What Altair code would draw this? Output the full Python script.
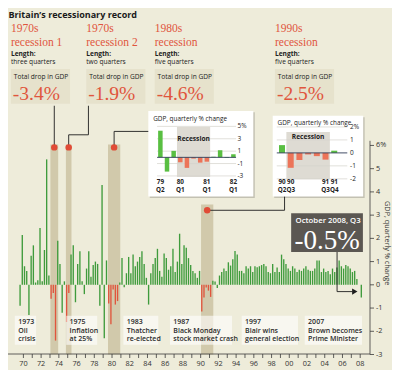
import altair as alt
import pandas as pd

# ---------------- chart values ----------------
START_YEAR = 1970
gdp_growth = [
    -0.9, 2.15, 0.8, 0.6,      # 1970
    -1.3, 1.25, 1.7, 0.1,      # 1971
    0.2, 2.45, 0.15, 1.5,      # 1972
    5.4, 0.4, -0.6, -0.35,     # 1973
    -2.4, 1.9, 0.9, -1.2,      # 1974
    0.15, -1.6, -0.35, 1.3,    # 1975
    1.7, -0.75, 0.9, 1.45,     # 1976
    0.15, -0.4, 0.7, 1.45,     # 1977
    0.35, 0.85, 1.0, 0.9,      # 1978
    -0.9, 4.3, -2.3, 1.05,     # 1979
    -0.8, -1.7, -0.2, -0.85,   # 1980
    -0.7, 0.1, 1.15, -0.1,     # 1981
    0.5, 1.2, 0.5, 1.3,        # 1982
    0.8, 1.0, 1.2, 1.45,       # 1983
    0.9, 0.3, -0.85, 0.5,      # 1984
    0.9, 1.15, 1.55, 0.6,      # 1985
    0.35, 1.35, 1.15, 0.65,    # 1986
    0.8, 1.55, 0.55, 1.0,      # 1987
    2.2, 0.9, 1.7, 1.6,        # 1988
    1.15, 0.85, 0.6, 0.5,      # 1989
    0.3, 0.6, -1.15, -0.55,    # 1990
    -0.12, -0.25, -0.52, 0.17, # 1991
    0.14, -0.14, 0.4, 0.55,    # 1992
    0.7, 0.6, 0.97, 0.83,      # 1993
    1.1, 1.46, 1.3, 0.6,       # 1994
    0.6, 0.5, 0.8, 0.7,        # 1995
    0.8, 0.55, 0.8, 0.76,      # 1996
    0.8, 0.85, 0.9, 0.8,       # 1997
    0.55, 0.5, 0.9, 0.55,      # 1998
    0.75, 0.55, 1.3, 1.1,      # 1999
    0.9, 0.7, 0.6, 0.8,        # 2000
    0.7, 0.55, 0.65, 0.6,      # 2001
    0.7, 0.8, 0.65, 0.6,       # 2002
    0.6, 0.7, 1.05, 1.05,      # 2003
    0.55, 0.7, 0.55, 0.6,      # 2004
    0.45, 0.7, 0.55, 0.75,     # 2005
    1.05, 0.8, 0.7, 0.85,      # 2006
    0.8, 0.7, 0.55, 0.6,       # 2007
    0.25, 0.0, -0.55,          # 2008
]
year_ticks = list(range(1970, 2009))
year_labels = [str(y)[2:] if y % 2 == 0 else "" for y in year_ticks]
pct_ticks = list(range(-3, 7))
pct_labels = [f"{v}%" if v == 6 else f"{v}" for v in pct_ticks]
y_title = "GDP, quarterly % change"

rec_year = ["1970s", "1970s", "1980s", "1990s"]
rec_name = ["recession 1", "recession 2", "recession", "recession"]
rec_length = ["three quarters", "two quarters", "five quarters", "five quarters"]
rec_drop = ["-3.4%", "-1.9%", "-4.6%", "-2.5%"]
rec_first = [1973.5, 1975.25, 1980.0, 1990.5]
rec_last = [1974.0, 1975.5, 1981.0, 1991.5]

event_year = ["1973", "1975", "1983", "1987", "1997", "2007"]
event_text = ["Oil\ncrisis", "Inflation\nat 25%", "Thatcher\nre-elected",
              "Black Monday\nstock market crash", "Blair wins\ngeneral election",
              "Brown becomes\nPrime Minister"]

inset1_start = 1979.25
inset1_labels = ["79\nQ2", "", "", "80\nQ1", "", "", "", "81\nQ1", "", "", "", "82\nQ1"]
inset1_ticks = [5, 3, 1, -1, -3]
inset2_start = 1990.25
inset2_labels = ["90\nQ2", "90\nQ3", "", "", "", "91\nQ3", "91\nQ4"]
inset2_ticks = [2, 1, 0, -1, -2]

callout_title = "October 2008, Q3"
callout_value = "-0.5%"

# ---------------- styles / layout ----------------
RED = "#e0553d"
GREEN = "#3f9b3c"
IRED = "#ec7459"
IGREEN = "#59bf42"
BG = "#eeecda"
BAND = "#cbc3a2"
PANEL = "#e6e2cc"
INK = "#1e1e1e"
AXC = "#3a3a3a"
SANS = "Open Sans"
SERIF = "Liberation Serif"

SX = 384 / 396
SY = 362 / 374
W, H = 362, 346


def px(x):
    return (x - 2) * SX


def py(y):
    return (y - 2) * SY


def main_t(ref_x):
    return START_YEAR + (ref_x - 9.5) / 9.4


def main_v(ref_y):
    return (288 - ref_y) / 24


XS = alt.Scale(domain=[main_t(0 / SX + 2), main_t(W / SX + 2)], nice=False, zero=False)
YS = alt.Scale(domain=[main_v(H / SY + 2), main_v(0 / SY + 2)], nice=False, zero=False)


def ptext(rows, **kw):
    d = pd.DataFrame({"px": [px(r[0]) for r in rows], "py": [py(r[1]) for r in rows],
                      "txt": [r[2] for r in rows]})
    props = dict(align="left", baseline="alphabetic", lineBreak="\n")
    props.update(kw)
    return alt.Chart(d).mark_text(**props).encode(
        x=alt.X("px:Q", scale=None, axis=None), y=alt.Y("py:Q", scale=None, axis=None),
        text="txt:N")


def prect(boxes, **kw):
    d = pd.DataFrame({"x0": [px(b[0]) for b in boxes], "y0": [py(b[1]) for b in boxes],
                      "x1": [px(b[2]) for b in boxes], "y1": [py(b[3]) for b in boxes]})
    return alt.Chart(d).mark_rect(**kw).encode(
        x=alt.X("x0:Q", scale=None, axis=None), x2="x1",
        y=alt.Y("y0:Q", scale=None, axis=None), y2="y1")


# ---------------- main data ----------------
def in_rec(tt):
    return any(f - 1e-6 <= tt <= l + 1e-6 for f, l in zip(rec_first, rec_last))


times = [START_YEAR + i / 4 for i in range(len(gdp_growth))]
main_df = pd.DataFrame({"t": times, "g": gdp_growth, "rec": [in_rec(x) for x in times]})

band_top = [main_v(143), main_v(143), main_v(143), main_v(205)]
dot_v = [main_v(146), main_v(146), main_v(146), main_v(211)]
band_df = pd.DataFrame({"t0": [f - 0.08 for f in rec_first], "t1": [l + 0.3 for l in rec_last],
                        "top": band_top, "bot": [-3.0] * 4})
centers = [(f - 0.08 + l + 0.3) / 2 for f, l in zip(rec_first, rec_last)]
dot_df = pd.DataFrame({"t": centers, "v": dot_v})

conn_rows = []


def add_conn(cid, pts):
    for k, (tt, vv) in enumerate(pts):
        conn_rows.append({"id": cid, "o": k, "t": tt, "v": vv})


add_conn(1, [(centers[0], dot_v[0]), (centers[0], main_v(103))])
add_conn(2, [(centers[1], dot_v[1]), (centers[1], main_v(133)), (main_t(82), main_v(133)),
             (main_t(82), main_v(103))])
add_conn(3, [(centers[2], dot_v[2]), (centers[2], main_v(129.5)), (main_t(147), main_v(129.5))])
add_conn(4, [(centers[3], dot_v[3]), (main_t(290), dot_v[3]), (main_t(290), main_v(196.5))])
add_conn(5, [(main_t(345.7), main_v(254)), (main_t(345.7), main_v(295)),
             (main_t(362), main_v(295))])
conn_df = pd.DataFrame(conn_rows)
arrow_df = pd.DataFrame({"t": [main_t(364.5)], "v": [main_v(295)]})

# ---------------- axes (drawn with the main scales) ----------------
xt_df = pd.DataFrame({"yr": [y + 0.375 for y in year_ticks], "lab": year_labels})
x_line = alt.Chart(pd.DataFrame({"a": [0]})).mark_rule(color=AXC, strokeWidth=0.8).encode(
    x=alt.value(0), x2=alt.value(W), y=alt.value(H))
x_ticks = alt.Chart(xt_df).mark_rule(color=AXC, strokeWidth=0.8).encode(
    x=alt.X("yr:Q", scale=XS, axis=None), y=alt.value(H), y2=alt.value(H + 4))
x_labels = alt.Chart(xt_df).mark_text(font=SANS, fontSize=7.3, color="#333",
                                      baseline="middle").encode(
    x=alt.X("yr:Q", scale=XS, axis=None), y=alt.value(H + 10), text="lab:N")

yt_df = pd.DataFrame({"v": pct_ticks, "lab": pct_labels})
y_line = alt.Chart(pd.DataFrame({"a": [6.2], "b": [-3.0]})).mark_rule(
    color=AXC, strokeWidth=0.8).encode(
    x=alt.value(W), y=alt.Y("a:Q", scale=YS, axis=None), y2="b")
y_ticks = alt.Chart(yt_df).mark_rule(color=AXC, strokeWidth=0.8).encode(
    x=alt.value(W), x2=alt.value(W + 4), y=alt.Y("v:Q", scale=YS, axis=None))
y_labels = alt.Chart(yt_df).mark_text(font=SANS, fontSize=7.3, color="#333", align="left",
                                      baseline="middle").encode(
    x=alt.value(W + 6), y=alt.Y("v:Q", scale=YS, axis=None), text="lab:N")
y_title_layer = ptext([(393, 245, y_title)], font=SANS, fontSize=7.3, color="#333",
                      angle=90, align="center", baseline="middle")

panels = prect([(cx, 65, cx + 61, 101) for cx in [5, 82.7, 153.3, 277.3]], color=PANEL)

bands = alt.Chart(band_df).mark_rect(color=BAND, opacity=0.85).encode(
    x=alt.X("t0:Q", scale=XS, axis=None), x2="t1",
    y=alt.Y("top:Q", scale=YS, axis=None), y2="bot")

bars = alt.Chart(main_df).mark_bar(size=1.35).encode(
    x=alt.X("t:Q", scale=XS, axis=None),
    y=alt.Y("g:Q", scale=YS, axis=None),
    y2=alt.datum(0),
    color=alt.condition("datum.rec", alt.value(RED), alt.value(GREEN)))

ev_boxes = [(9, 320, 31, 350), (62, 320, 94, 350), (121, 320, 157, 350),
            (169, 320, 233, 350), (243, 320, 301, 350), (308, 320, 367, 350)]
ev_box_layer = prect(ev_boxes, color="#ffffff", opacity=0.6)
ev_text_layer = ptext([(b[0] + 3.5, 328.3, y + "\n" + s)
                       for b, y, s in zip(ev_boxes, event_year, event_text)],
                      font=SANS, fontSize=7, fontWeight=600, color="#2a2a2a", lineHeight=8.7)

connectors = alt.Chart(conn_df).mark_line(color=INK, strokeWidth=0.9).encode(
    x=alt.X("t:Q", scale=XS, axis=None), y=alt.Y("v:Q", scale=YS, axis=None),
    detail="id:N", order="o:Q")
dots = alt.Chart(dot_df).mark_circle(size=42, color="#e04b36", opacity=1).encode(
    x=alt.X("t:Q", scale=XS, axis=None), y=alt.Y("v:Q", scale=YS, axis=None))
arrow = alt.Chart(arrow_df).mark_point(shape="triangle-right", size=38, filled=True,
                                       color=INK, opacity=1).encode(
    x=alt.X("t:Q", scale=XS, axis=None), y=alt.Y("v:Q", scale=YS, axis=None))

callout_box = prect([(294, 214, 368, 254)], color="#5b5752")
callout_t1 = ptext([(298.5, 224.3, callout_title)], font=SANS, fontSize=7.8, fontWeight=600,
                   color="#ffffff")
callout_t2 = ptext([(297.5, 251, callout_value)], font=SERIF, fontSize=27, color="#ffffff")

title = ptext([(2.5, 12.3, "Britain\u2019s recessionary record")], font=SANS, fontSize=9,
              fontWeight="bold", color="#1a1a1a")
col_x = [5, 82.7, 153.3, 277.3]
head_year = ptext([(cx, 27.3, s) for cx, s in zip(col_x, rec_year)], font=SERIF,
                  fontSize=11.5, color=RED)
head_name = ptext([(cx, 41.7, s) for cx, s in zip(col_x, rec_name)], font=SERIF,
                  fontSize=11.5, color=RED)
head_len = ptext([(cx, 51.5, "Length:") for cx in col_x], font=SANS, fontSize=6.6,
                 fontWeight="bold", color="#222")
head_q = ptext([(cx, 59.5, s) for cx, s in zip(col_x, rec_length)], font=SANS, fontSize=6.6,
               color="#222")
head_td = ptext([(cx + 3, 75.5, "Total drop in GDP") for cx in col_x], font=SANS,
                fontSize=6.6, color="#222")
head_drop = ptext([(cx + 2, 97, s) for cx, s in zip(col_x, rec_drop)], font=SERIF,
                  fontSize=19.5, color=RED)

main = alt.layer(panels, bands, bars, x_line, x_ticks, x_labels, y_line, y_ticks, y_labels,
                 y_title_layer, ev_box_layer, ev_text_layer,
                 connectors, dots, arrow, callout_box, callout_t1, callout_t2,
                 title, head_year, head_name, head_len, head_q, head_td, head_drop)


# ---------------- insets ----------------
def make_inset(start, labels, ticks, box, x0, step, zero, unit, bar_w, grid_span,
               band_ref, rec_ref_y, lab_x):
    i0 = int(round((start - START_YEAR) * 4))
    n = len(labels)
    vals = gdp_growth[i0:i0 + n]
    tt = [start + k / 4 for k in range(n)]
    df = pd.DataFrame({"i": list(range(n)), "g": vals, "rec": [in_rec(x) for x in tt],
                       "lab": labels})

    def iv(ref_x):
        return (ref_x - x0) / step

    def vv(ref_y):
        return (zero - ref_y) / unit

    xs = alt.Scale(domain=[iv(0 / SX + 2), iv(W / SX + 2)], nice=False, zero=False)
    ys = alt.Scale(domain=[vv(H / SY + 2), vv(0 / SY + 2)], nice=False, zero=False)

    recs = [k for k in range(n) if df["rec"][k]]
    shadow = prect([(box[0] + 1.5, box[1] + 1.5, box[2] + 1.5, box[3] + 1.5)],
                   color="#000000", opacity=0.18)
    card = prect([box], color="#ffffff")
    ttl = ptext([(box[0] + 5, box[1] + 10, "GDP, quarterly % change")], font=SANS,
                fontSize=6.4, color="#222")
    bd = pd.DataFrame({"a": [recs[0] - 0.5], "b": [recs[-1] + 0.5],
                       "c": [vv(band_ref[0])], "d": [vv(band_ref[1])]})
    band = alt.Chart(bd).mark_rect(color="#dedbd3").encode(
        x=alt.X("a:Q", scale=xs, axis=None), x2="b",
        y=alt.Y("c:Q", scale=ys, axis=None), y2="d")
    gd = pd.DataFrame({"v": [t for t in ticks if t != 0], "a": grid_span[0], "b": grid_span[1]})
    grid = alt.Chart(gd).mark_rule(color="#d4d2cc", strokeWidth=0.7).encode(
        x=alt.X("a:Q", scale=xs, axis=None), x2="b", y=alt.Y("v:Q", scale=ys, axis=None))
    ibars = alt.Chart(df).mark_bar(size=bar_w).encode(
        x=alt.X("i:Q", scale=xs, axis=None), y=alt.Y("g:Q", scale=ys, axis=None),
        y2=alt.datum(0),
        color=alt.condition("datum.rec", alt.value(IRED), alt.value(IGREEN)))
    zd = pd.DataFrame({"v": [0], "a": grid_span[0], "b": grid_span[1]})
    zline = alt.Chart(zd).mark_rule(color="#2f3b57", strokeWidth=0.9).encode(
        x=alt.X("a:Q", scale=xs, axis=None), x2="b", y=alt.Y("v:Q", scale=ys, axis=None))
    ld = pd.DataFrame({"v": ticks, "x": iv(lab_x),
                       "txt": [f"{t}%" if k == 0 else f"{t}" for k, t in enumerate(ticks)]})
    ylabs = alt.Chart(ld).mark_text(align="left", baseline="middle", font=SANS, fontSize=6.5,
                                    color="#222").encode(
        x=alt.X("x:Q", scale=xs, axis=None), y=alt.Y("v:Q", scale=ys, axis=None), text="txt:N")
    rd = pd.DataFrame({"x": [(recs[0] + recs[-1]) / 2], "v": [vv(rec_ref_y)], "txt": ["Recession"]})
    rtxt = alt.Chart(rd).mark_text(baseline="middle", font=SANS, fontSize=6.6,
                                   fontWeight="bold", color="#222").encode(
        x=alt.X("x:Q", scale=xs, axis=None), y=alt.Y("v:Q", scale=ys, axis=None), text="txt:N")
    xd = df[df["lab"] != ""].assign(v=vv(184.3))
    xlabs = alt.Chart(xd).mark_text(baseline="alphabetic", font=SANS, fontSize=6.3,
                                    fontWeight="bold", color="#222", lineBreak="\n",
                                    lineHeight=7.8).encode(
        x=alt.X("i:Q", scale=xs, axis=None), y=alt.Y("v:Q", scale=ys, axis=None), text="lab:N")
    return alt.layer(shadow, card, band, grid, ibars, zline, ylabs, rtxt, xlabs, ttl)


inset1 = make_inset(inset1_start, inset1_labels, inset1_ticks, (146.7, 108.3, 255, 196.7),
                    158.3, 7.04, 156.3, 6.4, 4.5, (-0.5, 11.4), (125, 176.7), 137.3, 240)
inset2 = make_inset(inset2_start, inset2_labels, inset2_ticks, (275, 113.3, 368.3, 196.7),
                    287.3, 9.23, 151.7, 13.4, 6.0, (-0.6, 7.5), (130, 179), 135, 359.5)

chart = alt.layer(main, inset1, inset2).resolve_scale(
    x="independent", y="independent").properties(
    width=W, height=H, background=BG,
    padding={"left": 0, "top": 0, "right": 384 - W, "bottom": 362 - H},
    autosize=alt.AutoSizeParams(type="none")).configure_view(strokeWidth=0)

chart.save("out.html", embed_options={"renderer": "svg", "actions": False})
